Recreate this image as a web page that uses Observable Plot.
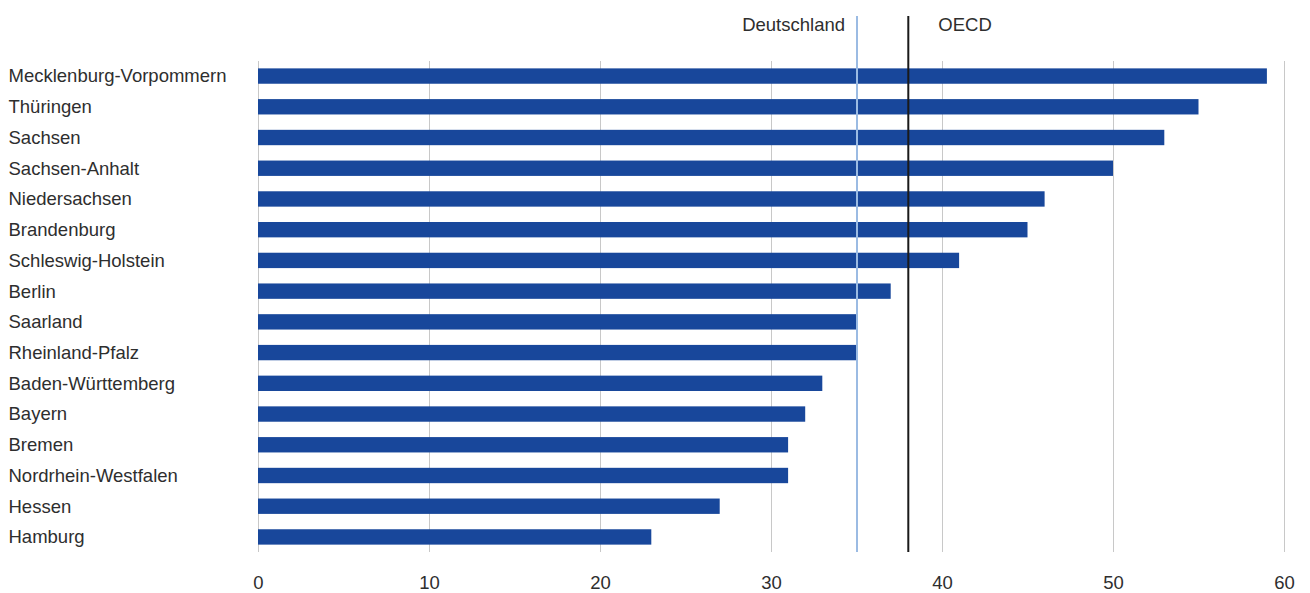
<!DOCTYPE html>
<html>
<head>
<meta charset="utf-8">
<script src="https://cdn.jsdelivr.net/npm/d3@7"></script>
<script src="https://cdn.jsdelivr.net/npm/@observablehq/plot@0.6"></script>
<style>
  html, body { margin: 0; padding: 0; background: #fff; }
  #chart svg { display: block; }
</style>
</head>
<body>
<div id="chart"></div>
<script>
const states = ["Mecklenburg-Vorpommern","Thüringen","Sachsen","Sachsen-Anhalt","Niedersachsen","Brandenburg","Schleswig-Holstein","Berlin","Saarland","Rheinland-Pfalz","Baden-Württemberg","Bayern","Bremen","Nordrhein-Westfalen","Hessen","Hamburg"];
const values = [59,55,53,50,46,45,41,37,35,35,33,32,31,31,27,23];
const refNames = ["Deutschland","OECD"];
const refValues = [35,38];
const xTicks = [0,10,20,30,40,50,60];

const data = states.map((s,i) => ({state: s, value: values[i]}));
const refs = refNames.map((n,i) => ({name: n, value: refValues[i]}));
const FS = 18.5;

const chart = Plot.plot({
  width: 1310,
  height: 593,
  marginLeft: 258,
  marginRight: 26,
  marginTop: 61,
  marginBottom: 41,
  style: {fontFamily: "'Liberation Sans', Arial, sans-serif", fontSize: FS + "px", color: "#2e2e2e", background: "#fff"},
  x: {domain: [0,60], ticks: xTicks, label: null},
  y: {domain: states, paddingInner: 0.5, paddingOuter: 0.24, round: false, label: null},
  marks: [
    Plot.gridX(xTicks, {stroke: "#c8c8c8", strokeOpacity: 1, strokeWidth: 1}),
    Plot.axisX(xTicks, {tickSize: 0, tickPadding: 23, fontSize: FS, fill: "#2e2e2e", label: null}),
    Plot.barX(data, {x: "value", y: "state", fill: "#18479b"}),
    Plot.ruleX([refs[0]], {x: "value", stroke: "#9bbbe3", strokeWidth: 2, insetTop: -45}),
    Plot.ruleX([refs[1]], {x: "value", stroke: "#1a1a1a", strokeWidth: 2, insetTop: -45}),
    Plot.text([refs[0]], {x: "value", text: "name", frameAnchor: "top", lineAnchor: "middle", textAnchor: "end", dx: -12, dy: -36, fill: "#2e2e2e", fontSize: FS}),
    Plot.text([refs[1]], {x: "value", text: "name", frameAnchor: "top", lineAnchor: "middle", textAnchor: "start", dx: 30, dy: -36, fill: "#2e2e2e", fontSize: FS}),
    Plot.text(states, {y: d => d, text: d => d, frameAnchor: "left", textAnchor: "start", dx: -250, fill: "#2e2e2e", fontSize: FS}),
    Plot.axisY({ticks: [], tickSize: 0, label: null})
  ]
});
document.getElementById("chart").appendChild(chart);
</script>
</body>
</html>
